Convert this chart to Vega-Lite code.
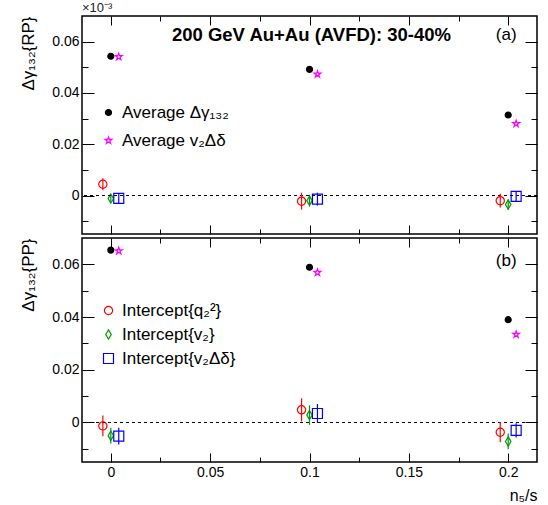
{
  "$schema": "https://vega.github.io/schema/vega-lite/v6.json",
  "padding": {"left": 19, "top": 0, "right": 5, "bottom": 0},
  "background": "white",
  "spacing": 0,
  "datasets": {
    "pts": [
      {"panel": "RP", "series": "Average Δγ₁₃₂", "x": 0, "y": 0.0543, "err": null},
      {"panel": "RP", "series": "Average Δγ₁₃₂", "x": 0.1, "y": 0.0492, "err": null},
      {"panel": "RP", "series": "Average Δγ₁₃₂", "x": 0.2, "y": 0.0314, "err": null},
      {"panel": "RP", "series": "Average v₂Δδ", "x": 0.004, "y": 0.0541, "err": null},
      {"panel": "RP", "series": "Average v₂Δδ", "x": 0.104, "y": 0.0473, "err": null},
      {"panel": "RP", "series": "Average v₂Δδ", "x": 0.204, "y": 0.0280, "err": null},
      {"panel": "RP", "series": "Intercept{q₂²}", "x": -0.004, "y": 0.0044, "err": 0.0023},
      {"panel": "RP", "series": "Intercept{q₂²}", "x": 0.096, "y": -0.0022, "err": 0.0033},
      {"panel": "RP", "series": "Intercept{q₂²}", "x": 0.196, "y": -0.0020, "err": 0.0027},
      {"panel": "RP", "series": "Intercept{v₂}", "x": 0, "y": -0.0012, "err": 0.0012},
      {"panel": "RP", "series": "Intercept{v₂}", "x": 0.1, "y": -0.0020, "err": 0.0023},
      {"panel": "RP", "series": "Intercept{v₂}", "x": 0.2, "y": -0.0035, "err": 0.0020},
      {"panel": "RP", "series": "Intercept{v₂Δδ}", "x": 0.004, "y": -0.0011, "err": 0.0020},
      {"panel": "RP", "series": "Intercept{v₂Δδ}", "x": 0.104, "y": -0.0014, "err": 0.0025},
      {"panel": "RP", "series": "Intercept{v₂Δδ}", "x": 0.204, "y": -0.0003, "err": 0.0018},
      {"panel": "PP", "series": "Average Δγ₁₃₂", "x": 0, "y": 0.0654, "err": null},
      {"panel": "PP", "series": "Average Δγ₁₃₂", "x": 0.1, "y": 0.0589, "err": null},
      {"panel": "PP", "series": "Average Δγ₁₃₂", "x": 0.2, "y": 0.0390, "err": null},
      {"panel": "PP", "series": "Average v₂Δδ", "x": 0.004, "y": 0.0651, "err": null},
      {"panel": "PP", "series": "Average v₂Δδ", "x": 0.104, "y": 0.0569, "err": null},
      {"panel": "PP", "series": "Average v₂Δδ", "x": 0.204, "y": 0.0334, "err": null},
      {"panel": "PP", "series": "Intercept{q₂²}", "x": -0.004, "y": -0.0013, "err": 0.0039},
      {"panel": "PP", "series": "Intercept{q₂²}", "x": 0.096, "y": 0.0048, "err": 0.0044},
      {"panel": "PP", "series": "Intercept{q₂²}", "x": 0.196, "y": -0.0037, "err": 0.0038},
      {"panel": "PP", "series": "Intercept{v₂}", "x": 0, "y": -0.0050, "err": 0.0030},
      {"panel": "PP", "series": "Intercept{v₂}", "x": 0.1, "y": 0.0028, "err": 0.0037},
      {"panel": "PP", "series": "Intercept{v₂}", "x": 0.2, "y": -0.0072, "err": 0.0030},
      {"panel": "PP", "series": "Intercept{v₂Δδ}", "x": 0.004, "y": -0.0052, "err": 0.0032},
      {"panel": "PP", "series": "Intercept{v₂Δδ}", "x": 0.104, "y": 0.0034, "err": 0.0036},
      {"panel": "PP", "series": "Intercept{v₂Δδ}", "x": 0.204, "y": -0.0030, "err": 0.0027}
    ]
  },
  "config": {
    "font": "Liberation Sans",
    "view": {"stroke": "black", "strokeWidth": 1.5},
    "axis": {"domain": false, "grid": false, "tickColor": "black", "labelColor": "black", "labelFontSize": 14, "labelFont": "Liberation Sans", "titleFont": "Liberation Sans", "titleFontSize": 17, "titleFontWeight": "normal", "titleColor": "black", "labelPadding": 3},
    "legend": {"labelFont": "Liberation Sans", "labelFontSize": 17, "labelColor": "black", "symbolStrokeWidth": 1.2, "padding": 0, "labelOffset": 5},
    "title": {"font": "Liberation Sans", "fontWeight": "normal", "color": "#222"}
  },
  "resolve": {
    "scale": {"x": "independent", "y": "independent"},
    "legend": {"stroke": "independent", "fill": "independent", "shape": "independent", "size": "independent"}
  },
  "vconcat": [
    {
      "width": 455,
      "height": 218,
      "title": {"text": "×10⁻³", "anchor": "start", "frame": "group", "fontSize": 13, "offset": 1},
      "data": {"name": "pts"},
      "transform": [{"filter": "datum.panel == 'RP'"}],
      "resolve": {"axis": {"x": "independent", "y": "independent"}},
      "layer": [
        {
          "mark": {"type": "point", "strokeWidth": 1.2, "opacity": 1},
          "encoding": {
            "x": {"field": "x", "type": "quantitative", "scale": {"domain": [-0.0145, 0.2145], "nice": false, "zero": false},
              "axis": {"orient": "bottom", "values": [0, 0.05, 0.1, 0.15, 0.2], "tickSize": 9, "offset": -9, "labels": false, "title": null}},
            "y": {"field": "y", "type": "quantitative", "scale": {"domain": [-0.015, 0.07], "nice": false, "zero": false},
              "axis": {"orient": "left", "values": [0, 0.02, 0.04, 0.06], "tickSize": 12, "offset": -12, "format": "~g", "title": "Δγ₁₃₂{RP}", "titleAnchor": "end", "titlePadding": 14}},
            "shape": {"field": "series", "type": "nominal", "scale": {"domain": ["Average Δγ₁₃₂", "Average v₂Δδ", "Intercept{q₂²}", "Intercept{v₂}", "Intercept{v₂Δδ}"], "range": ["circle", "M0,-1L0.223,-0.307L0.951,-0.309L0.361,0.117L0.588,0.809L0,0.38L-0.588,0.809L-0.361,0.117L-0.951,-0.309L-0.223,-0.307Z", "circle", "M0,-1L0.6,0L0,1L-0.6,0Z", "square"]},
              "legend": {"orient": "none", "legendX": 18, "legendY": 88, "title": null, "values": ["Average Δγ₁₃₂", "Average v₂Δδ"], "rowPadding": 10}},
            "stroke": {"field": "series", "type": "nominal", "scale": {"domain": ["Average Δγ₁₃₂", "Average v₂Δδ", "Intercept{q₂²}", "Intercept{v₂}", "Intercept{v₂Δδ}"], "range": ["black", "#ff00ff", "#ff0000", "#009900", "#0000ff"]},
              "legend": {"orient": "none", "legendX": 18, "legendY": 88, "title": null, "values": ["Average Δγ₁₃₂", "Average v₂Δδ"], "rowPadding": 10}},
            "fill": {"field": "series", "type": "nominal", "scale": {"domain": ["Average Δγ₁₃₂", "Average v₂Δδ", "Intercept{q₂²}", "Intercept{v₂}", "Intercept{v₂Δδ}"], "range": ["black", "white", "white", "white", "white"]},
              "legend": {"orient": "none", "legendX": 18, "legendY": 88, "title": null, "values": ["Average Δγ₁₃₂", "Average v₂Δδ"], "rowPadding": 10}},
            "size": {"field": "series", "type": "nominal", "scale": {"domain": ["Average Δγ₁₃₂", "Average v₂Δδ", "Intercept{q₂²}", "Intercept{v₂}", "Intercept{v₂Δδ}"], "range": [36, 100, 55, 100, 50]},
              "legend": {"orient": "none", "legendX": 18, "legendY": 88, "title": null, "values": ["Average Δγ₁₃₂", "Average v₂Δδ"], "rowPadding": 10}}
          }
        },
        {
          "data": {"values": [{}]},
          "mark": {"type": "rule", "strokeDash": [3, 3], "color": "black", "strokeWidth": 1},
          "encoding": {"y": {"datum": 0, "type": "quantitative", "axis": null}}
        },
        {
          "transform": [{"filter": "datum.err != null"}],
          "mark": {"type": "errorbar", "thickness": 1.2},
          "encoding": {
            "x": {"field": "x", "type": "quantitative", "axis": null},
            "y": {"field": "y", "type": "quantitative", "axis": null},
            "yError": {"field": "err"},
            "color": {"field": "series", "type": "nominal", "scale": {"domain": ["Intercept{q₂²}", "Intercept{v₂}", "Intercept{v₂Δδ}"], "range": ["#ff0000", "#009900", "#0000ff"]}, "legend": null}
          }
        },
        {
          "data": {"values": [{}]},
          "mark": {"type": "text", "text": "200 GeV Au+Au (AVFD): 30-40%", "font": "Liberation Sans", "fontWeight": "bold", "fontSize": 18.5, "align": "center", "baseline": "middle", "color": "black"},
          "encoding": {
            "x": {"datum": 0.101, "type": "quantitative", "axis": {"orient": "top", "values": [0, 0.05, 0.1, 0.15, 0.2], "tickSize": 9, "offset": -9, "labels": false, "title": null}},
            "y": {"datum": 0.0625, "type": "quantitative", "axis": {"orient": "right", "values": [0, 0.02, 0.04, 0.06], "tickSize": 12, "offset": -12, "labels": false, "title": null}}
          }
        },
        {
          "data": {"values": [{}]},
          "mark": {"type": "text", "text": "(a)", "font": "Liberation Sans", "fontSize": 17, "align": "center", "baseline": "middle", "color": "black"},
          "encoding": {
            "x": {"datum": 0.199, "type": "quantitative", "axis": {"orient": "bottom", "values": [0.025, 0.075, 0.125, 0.175], "tickSize": 5, "offset": -5, "labels": false, "title": null}},
            "y": {"datum": 0.0625, "type": "quantitative", "axis": {"orient": "left", "values": [-0.01, 0.01, 0.03, 0.05], "tickSize": 6, "offset": -6, "labels": false, "title": null}}
          }
        },
        {
          "data": {"values": [{}]},
          "mark": {"type": "text", "text": ""},
          "encoding": {
            "x": {"datum": 0.1, "type": "quantitative", "axis": {"orient": "top", "values": [0.025, 0.075, 0.125, 0.175], "tickSize": 5, "offset": -5, "labels": false, "title": null}},
            "y": {"datum": 0.03, "type": "quantitative", "axis": {"orient": "right", "values": [-0.01, 0.01, 0.03, 0.05], "tickSize": 6, "offset": -6, "labels": false, "title": null}}
          }
        }
      ]
    },
    {
      "width": 455,
      "height": 224,
      "data": {"name": "pts"},
      "transform": [{"filter": "datum.panel == 'PP'"}],
      "resolve": {"axis": {"x": "independent", "y": "independent"}},
      "layer": [
        {
          "mark": {"type": "point", "strokeWidth": 1.2, "opacity": 1},
          "encoding": {
            "x": {"field": "x", "type": "quantitative", "scale": {"domain": [-0.0145, 0.2145], "nice": false, "zero": false},
              "axis": {"orient": "bottom", "values": [0, 0.05, 0.1, 0.15, 0.2], "tickSize": 9, "offset": -9, "format": "~g", "title": "n₅/s", "titleAnchor": "end", "titlePadding": 8, "titleFontSize": 16}},
            "y": {"field": "y", "type": "quantitative", "scale": {"domain": [-0.015, 0.07], "nice": false, "zero": false},
              "axis": {"orient": "left", "values": [0, 0.02, 0.04, 0.06], "tickSize": 12, "offset": -12, "format": "~g", "title": "Δγ₁₃₂{PP}", "titleAnchor": "end", "titlePadding": 14}},
            "shape": {"field": "series", "type": "nominal", "scale": {"domain": ["Average Δγ₁₃₂", "Average v₂Δδ", "Intercept{q₂²}", "Intercept{v₂}", "Intercept{v₂Δδ}"], "range": ["circle", "M0,-1L0.223,-0.307L0.951,-0.309L0.361,0.117L0.588,0.809L0,0.38L-0.588,0.809L-0.361,0.117L-0.951,-0.309L-0.223,-0.307Z", "circle", "M0,-1L0.6,0L0,1L-0.6,0Z", "square"]},
              "legend": {"orient": "none", "legendX": 18, "legendY": 64, "title": null, "values": ["Intercept{q₂²}", "Intercept{v₂}", "Intercept{v₂Δδ}"], "rowPadding": 6}},
            "stroke": {"field": "series", "type": "nominal", "scale": {"domain": ["Average Δγ₁₃₂", "Average v₂Δδ", "Intercept{q₂²}", "Intercept{v₂}", "Intercept{v₂Δδ}"], "range": ["black", "#ff00ff", "#ff0000", "#009900", "#0000ff"]},
              "legend": {"orient": "none", "legendX": 18, "legendY": 64, "title": null, "values": ["Intercept{q₂²}", "Intercept{v₂}", "Intercept{v₂Δδ}"], "rowPadding": 6}},
            "fill": {"field": "series", "type": "nominal", "scale": {"domain": ["Average Δγ₁₃₂", "Average v₂Δδ", "Intercept{q₂²}", "Intercept{v₂}", "Intercept{v₂Δδ}"], "range": ["black", "white", "white", "white", "white"]},
              "legend": {"orient": "none", "legendX": 18, "legendY": 64, "title": null, "values": ["Intercept{q₂²}", "Intercept{v₂}", "Intercept{v₂Δδ}"], "rowPadding": 6}},
            "size": {"field": "series", "type": "nominal", "scale": {"domain": ["Average Δγ₁₃₂", "Average v₂Δδ", "Intercept{q₂²}", "Intercept{v₂}", "Intercept{v₂Δδ}"], "range": [36, 100, 55, 100, 50]},
              "legend": {"orient": "none", "legendX": 18, "legendY": 64, "title": null, "values": ["Intercept{q₂²}", "Intercept{v₂}", "Intercept{v₂Δδ}"], "rowPadding": 6}}
          }
        },
        {
          "data": {"values": [{}]},
          "mark": {"type": "rule", "strokeDash": [3, 3], "color": "black", "strokeWidth": 1},
          "encoding": {"y": {"datum": 0, "type": "quantitative", "axis": null}}
        },
        {
          "transform": [{"filter": "datum.err != null"}],
          "mark": {"type": "errorbar", "thickness": 1.2},
          "encoding": {
            "x": {"field": "x", "type": "quantitative", "axis": null},
            "y": {"field": "y", "type": "quantitative", "axis": null},
            "yError": {"field": "err"},
            "color": {"field": "series", "type": "nominal", "scale": {"domain": ["Intercept{q₂²}", "Intercept{v₂}", "Intercept{v₂Δδ}"], "range": ["#ff0000", "#009900", "#0000ff"]}, "legend": null}
          }
        },
        {
          "data": {"values": [{}]},
          "mark": {"type": "text", "text": "(b)", "font": "Liberation Sans", "fontSize": 17, "align": "center", "baseline": "middle", "color": "black"},
          "encoding": {
            "x": {"datum": 0.199, "type": "quantitative", "axis": {"orient": "top", "values": [0, 0.05, 0.1, 0.15, 0.2], "tickSize": 9, "offset": -9, "labels": false, "title": null}},
            "y": {"datum": 0.0613, "type": "quantitative", "axis": {"orient": "right", "values": [0, 0.02, 0.04, 0.06], "tickSize": 12, "offset": -12, "labels": false, "title": null}}
          }
        },
        {
          "data": {"values": [{}]},
          "mark": {"type": "text", "text": ""},
          "encoding": {
            "x": {"datum": 0.1, "type": "quantitative", "axis": {"orient": "bottom", "values": [0.025, 0.075, 0.125, 0.175], "tickSize": 5, "offset": -5, "labels": false, "title": null}},
            "y": {"datum": 0.03, "type": "quantitative", "axis": {"orient": "left", "values": [-0.01, 0.01, 0.03, 0.05], "tickSize": 6, "offset": -6, "labels": false, "title": null}}
          }
        },
        {
          "data": {"values": [{}]},
          "mark": {"type": "text", "text": ""},
          "encoding": {
            "x": {"datum": 0.1, "type": "quantitative", "axis": {"orient": "top", "values": [0.025, 0.075, 0.125, 0.175], "tickSize": 5, "offset": -5, "labels": false, "title": null}},
            "y": {"datum": 0.03, "type": "quantitative", "axis": {"orient": "right", "values": [-0.01, 0.01, 0.03, 0.05], "tickSize": 6, "offset": -6, "labels": false, "title": null}}
          }
        }
      ]
    }
  ]
}
